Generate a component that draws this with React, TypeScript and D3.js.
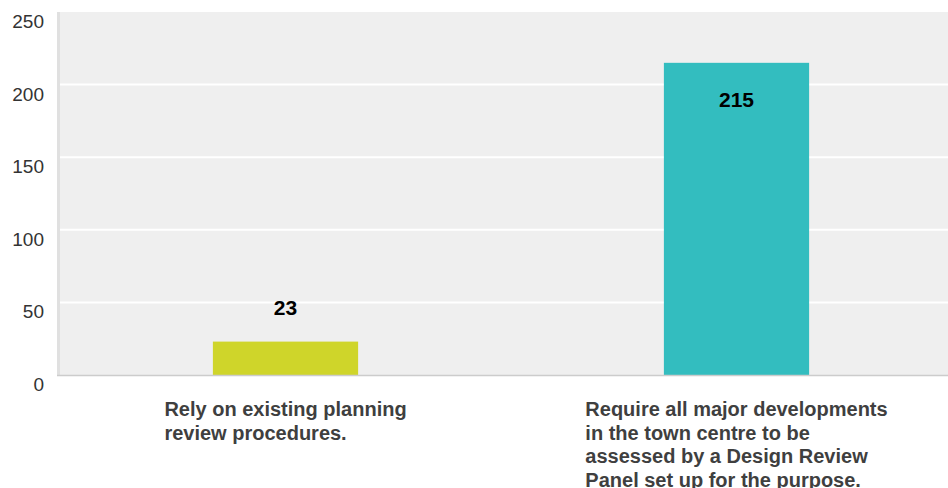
import React, { useEffect, useRef } from "react";
import * as d3 from "d3";

const categories = [
  "Rely on existing planning review procedures.",
  "Require all major developments in the town centre to be assessed by a Design Review Panel set up for the purpose.",
];
const categoryLines = [
  ["Rely on existing planning", "review procedures."],
  ["Require all major developments", "in the town centre to be", "assessed by a Design Review", "Panel set up for the purpose."],
];
const values = [23, 215];
const colors = ["#cfd52a", "#33bdbf"];
const yTicks = [0, 50, 100, 150, 200, 250];

const W = 948;
const H = 488;

export default function App() {
  const ref = useRef<SVGSVGElement | null>(null);

  useEffect(() => {
    const svg = d3.select(ref.current);
    svg.selectAll("*").remove();

    const y = d3.scaleLinear().domain([0, 250]).range([375, 12]);
    const x = d3.scaleBand<string>().domain(categories).range([60, 962]);
    const barW = x.bandwidth() * 0.322;

    // plot background
    svg.append("rect")
      .attr("x", 57).attr("y", y(250))
      .attr("width", W - 57).attr("height", y(0) - y(250))
      .attr("fill", "#efefef");

    // gridlines
    svg.append("g").selectAll("line").data(yTicks.filter(t => t > 0 && t < 250)).join("line")
      .attr("x1", 60).attr("x2", W)
      .attr("y1", d => y(d)).attr("y2", d => y(d))
      .attr("stroke", "#ffffff").attr("stroke-width", 2);

    // y tick labels
    svg.append("g").selectAll("text").data(yTicks).join("text")
      .attr("x", 44).attr("y", d => y(d) + 16)
      .attr("text-anchor", "end")
      .attr("font-family", "Liberation Sans, Arial, sans-serif")
      .attr("font-size", 19)
      .attr("fill", "#333333")
      .text(d => String(d));

    // bars
    svg.append("g").selectAll("rect").data(values).join("rect")
      .attr("x", (d, i) => (x(categories[i]) as number) + x.bandwidth() / 2 - barW / 2)
      .attr("y", d => y(d))
      .attr("width", barW)
      .attr("height", d => y(0) - y(d))
      .attr("fill", (d, i) => colors[i]);

    // axes lines
    svg.append("line")
      .attr("x1", 58.5).attr("x2", 58.5).attr("y1", y(250)).attr("y2", y(0))
      .attr("stroke", "#e0e0e0").attr("stroke-width", 3);
    svg.append("line")
      .attr("x1", 57).attr("x2", W).attr("y1", y(0) + 0.5).attr("y2", y(0) + 0.5)
      .attr("stroke", "#cccccc").attr("stroke-width", 1.5);

    // data labels
    svg.append("g").selectAll("text").data(values).join("text")
      .attr("x", (d, i) => (x(categories[i]) as number) + x.bandwidth() / 2)
      .attr("y", d => (y(0) - y(d) > 100 ? y(d) + 44 : y(d) - 27))
      .attr("text-anchor", "middle")
      .attr("font-family", "Liberation Sans, Arial, sans-serif")
      .attr("font-weight", "bold")
      .attr("font-size", 21)
      .attr("fill", "#000000")
      .text(d => String(d));

    // category labels
    categoryLines.forEach((lines, i) => {
      const cx = (x(categories[i]) as number) + x.bandwidth() / 2;
      const t = svg.append("text")
        .attr("font-family", "Liberation Sans, Arial, sans-serif")
        .attr("font-weight", "bold")
        .attr("font-size", 20)
        .attr("fill", "#3f3f3f");
      lines.forEach((ln, j) => {
        t.append("tspan").attr("y", 416 + j * 23.7).text(ln);
      });
      let maxW = 0;
      t.selectAll<SVGTSpanElement, unknown>("tspan").each(function () {
        maxW = Math.max(maxW, this.getComputedTextLength());
      });
      t.selectAll("tspan").attr("x", cx - maxW / 2);
    });
  }, []);

  return (
    <svg
      ref={ref}
      width={W}
      height={H}
      style={{ position: "absolute", left: 0, top: 0, background: "#ffffff" }}
    />
  );
}
